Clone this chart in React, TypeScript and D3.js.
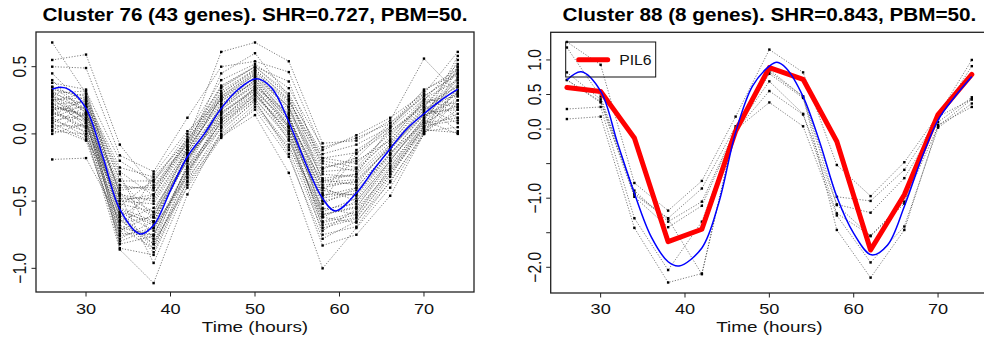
import * as d3 from "d3";
import React from "react";

// sampling times (hours) shared by both clusters
const times = [26, 30, 34, 38, 42, 46, 50, 54, 58, 62, 66, 70, 74];
const xTicks = [30, 40, 50, 60, 70];

// cluster 76: 43 gene profiles
const cluster76: number[][] = [
  [0.68, 0.30, -0.45, -0.62, -0.10, 0.45, 0.60, 0.28, -0.35, -0.30, 0.05, 0.33, 0.45],
  [0.55, 0.59, -0.08, -0.40, -0.05, 0.61, 0.68, 0.54, -0.07, -0.05, 0.10, 0.56, 0.30],
  [0.50, 0.49, -0.16, -0.28, 0.12, 0.50, 0.54, 0.46, -0.12, -0.01, 0.12, 0.30, 0.61],
  [0.45, 0.20, -0.60, -0.85, -0.30, 0.10, 0.35, 0.15, -0.60, -0.55, -0.20, 0.10, 0.58],
  [0.40, 0.15, -0.70, -0.75, -0.25, 0.20, 0.40, 0.05, -0.70, -0.63, -0.30, 0.05, 0.55],
  [0.38, 0.33, -0.50, -0.45, -0.02, 0.35, 0.50, 0.39, -0.25, -0.20, -0.05, 0.25, 0.52],
  [0.35, 0.25, -0.85, -0.90, -0.35, 0.05, 0.30, 0.00, -0.75, -0.69, -0.35, 0.00, 0.50],
  [0.33, 0.28, -0.55, -0.65, -0.15, 0.28, 0.45, 0.20, -0.40, -0.35, -0.10, 0.20, 0.47],
  [0.30, 0.10, -0.75, -0.30, 0.02, 0.25, 0.38, 0.10, -0.50, -0.15, 0.08, 0.28, 0.44],
  [0.30, 0.22, -0.30, -0.80, -0.40, -0.03, 0.20, -0.10, -0.55, -0.60, -0.25, 0.10, 0.42],
  [0.28, 0.18, -0.65, -0.55, -0.20, 0.22, 0.42, 0.12, -0.45, -0.45, -0.15, 0.15, 0.40],
  [0.27, 0.05, -0.80, -0.70, -0.30, 0.15, 0.33, -0.05, -0.62, -0.50, -0.20, 0.12, 0.38],
  [0.25, 0.30, -0.35, -0.35, -0.08, 0.32, 0.48, 0.25, -0.20, -0.25, 0.02, 0.22, 0.35],
  [0.25, 0.12, -0.60, -0.82, -0.22, 0.18, 0.36, 0.08, -0.58, -0.48, -0.18, 0.08, 0.33],
  [0.23, 0.08, -0.72, -0.60, -0.18, 0.12, 0.30, 0.02, -0.52, -0.40, -0.12, 0.18, 0.30],
  [0.22, 0.24, -0.45, -0.50, -0.12, 0.27, 0.44, 0.18, -0.30, -0.32, -0.08, 0.24, 0.28],
  [0.20, 0.00, -0.86, -1.11, -0.45, 0.02, 0.25, -0.15, -0.83, -0.75, -0.46, 0.00, 0.25],
  [0.20, 0.15, -0.40, -0.40, -0.10, 0.30, 0.47, 0.22, -0.22, -0.28, -0.02, 0.26, 0.22],
  [0.18, 0.20, -0.58, -0.72, -0.25, 0.08, 0.28, 0.05, -0.48, -0.42, -0.15, 0.14, 0.20],
  [0.17, 0.05, -0.52, -0.58, -0.14, 0.20, 0.40, 0.12, -0.38, -0.36, -0.10, 0.16, 0.18],
  [0.15, 0.10, -0.68, -0.78, -0.28, 0.06, 0.26, -0.02, -0.65, -0.58, -0.26, 0.04, 0.15],
  [0.14, 0.26, -0.25, -0.32, -0.05, 0.34, 0.50, 0.28, -0.15, -0.08, 0.05, 0.30, 0.12],
  [0.12, -0.02, -0.78, -0.65, -0.20, 0.16, 0.32, 0.06, -0.56, -0.52, -0.22, 0.06, 0.10],
  [0.10, 0.14, -0.48, -0.48, -0.12, 0.24, 0.42, 0.16, -0.33, -0.30, -0.06, 0.20, 0.08],
  [0.10, 0.02, -0.62, -0.88, -0.33, 0.00, 0.22, -0.08, -0.68, -0.62, -0.30, 0.02, 0.05],
  [0.08, 0.20, -0.38, -0.42, -0.06, 0.28, 0.46, 0.24, -0.18, -0.22, 0.00, 0.22, 0.02],
  [0.06, 0.06, -0.56, -0.68, -0.18, 0.14, 0.34, 0.04, -0.42, -0.46, -0.16, 0.10, 0.00],
  [0.05, -0.05, -0.74, -0.75, -0.26, 0.04, 0.24, -0.12, -0.72, -0.56, -0.28, 0.03, 0.01],
  [0.03, 0.16, -0.42, -0.38, -0.08, 0.26, 0.44, 0.20, -0.28, -0.26, -0.04, 0.24, 0.20],
  [0.02, 0.00, -0.66, -0.62, -0.16, 0.10, 0.30, 0.00, -0.50, -0.44, -0.14, 0.08, 0.12],
  [0.00, 0.08, -0.50, -0.52, -0.14, 0.18, 0.38, 0.10, -0.36, -0.34, -0.10, 0.14, 0.25],
  [-0.19, -0.18, -0.64, -0.82, -0.36, -0.02, 0.14, -0.29, -1.00, -0.70, -0.40, 0.00, 0.35],
  [0.30, 0.32, -0.20, -0.36, 0.00, 0.40, 0.52, 0.34, -0.10, -0.03, 0.08, 0.32, 0.48],
  [0.35, 0.18, -0.62, -0.45, -0.10, 0.22, 0.40, 0.14, -0.44, -0.12, 0.04, 0.26, 0.40],
  [0.22, 0.12, -0.70, -0.85, -0.28, 0.12, 0.32, 0.08, -0.62, -0.66, -0.32, 0.06, 0.32],
  [0.25, 0.27, -0.44, -0.58, -0.12, 0.26, 0.42, 0.20, -0.34, -0.38, -0.08, 0.18, 0.36],
  [0.16, 0.04, -0.82, -0.76, -0.24, 0.08, 0.26, -0.04, -0.60, -0.54, -0.24, 0.05, 0.28],
  [0.12, 0.22, -0.34, -0.62, -0.20, 0.20, 0.36, 0.12, -0.40, -0.50, -0.20, 0.12, 0.30],
  [0.20, 0.14, -0.54, -0.34, -0.04, 0.30, 0.48, 0.26, -0.26, -0.18, 0.06, 0.28, 0.45],
  [0.28, 0.10, -0.76, -0.70, -0.32, 0.10, 0.28, 0.02, -0.66, -0.60, -0.28, 0.08, 0.22],
  [0.18, 0.24, -0.28, -0.46, -0.06, 0.36, 0.50, 0.30, -0.18, -0.14, 0.02, 0.20, 0.50],
  [0.32, 0.16, -0.58, -0.66, -0.16, 0.16, 0.34, 0.06, -0.46, -0.40, -0.12, 0.16, 0.42],
  [0.08, -0.04, -0.46, -0.96, -0.38, -0.01, 0.18, -0.17, -0.78, -0.65, -0.36, 0.01, 0.18],
];

// fitted curve for cluster 76 (blue)
const fit76T = [26, 27, 28, 30, 32, 34, 36.4, 38, 40, 42, 44, 46, 48, 50.2, 52, 54, 56, 58, 59.5, 62, 64, 66, 68, 70, 72, 74];
const fit76V = [0.333, 0.347, 0.33, 0.19, -0.17, -0.56, -0.745, -0.68, -0.42, -0.17, 0.0, 0.19, 0.33, 0.41, 0.34, 0.09, -0.22, -0.48, -0.573, -0.44, -0.27, -0.11, 0.04, 0.15, 0.25, 0.333];

// cluster 88: 8 gene profiles (last one is PIL6)
const pil6 = [0.60, 0.545, -0.13, -1.63, -1.45, -0.03, 0.89, 0.72, -0.18, -1.75, -0.95, 0.21, 0.79];
const cluster88: number[][] = [
  [1.26, 0.93, -0.78, -1.18, -0.75, 0.18, 1.15, 0.82, -0.52, -0.97, -0.48, 0.20, 1.00],
  [1.18, 0.47, -0.93, -1.29, -0.86, 0.04, 0.83, 0.47, -0.98, -1.04, -0.59, 0.15, 0.91],
  [0.82, 0.43, -0.89, -1.34, -1.05, 0.00, 0.69, 0.22, -1.09, -1.21, -0.71, 0.10, 0.46],
  [0.71, 0.385, -0.98, -1.42, -1.11, -0.02, 0.55, 0.21, -1.22, -1.54, -1.05, 0.04, 0.43],
  [0.29, 0.32, -1.29, -2.04, -1.34, -0.01, 0.385, 0.04, -1.25, -1.93, -1.41, 0.02, 0.37],
  [0.145, 0.18, -1.43, -2.22, -2.09, 0.01, 0.86, 0.47, -1.46, -2.15, -1.46, 0.06, 0.32],
  [0.71, 0.40, -0.95, -1.30, -2.10, 0.00, 0.80, 0.45, -1.10, -1.55, -1.08, 0.18, 0.43],
  pil6,
];

// fitted curve for cluster 88 (blue)
const fit88T = [26, 27.7, 30, 32, 34, 36, 38, 39.3, 42, 44, 46, 48, 50, 50.9, 52, 54, 56, 58, 60, 62.1, 64, 66, 68, 70, 72, 74];
const fit88V = [0.71, 0.83, 0.55, -0.20, -0.93, -1.56, -1.92, -1.98, -1.72, -1.07, -0.05, 0.62, 0.91, 0.965, 0.88, 0.47, -0.20, -0.98, -1.51, -1.82, -1.68, -1.12, -0.44, 0.13, 0.47, 0.76];

const yTicks76 = [-1.0, -0.5, 0.0, 0.5];
const yTicks88 = [-2.0, -1.5, -1.0, -0.5, 0.0, 0.5, 1.0];
const yLabeled88 = [-2.0, -1.0, 0.0, 0.5, 1.0];

const FONT = "'Liberation Sans', Arial, Helvetica, sans-serif";
const SX = 1.18; // the picture is stretched sideways a bit
const fmt = d3.format(".1f");

type PanelProps = {
  left: number; right: number; top: number; bottom: number;
  yDomain: [number, number];
  genes: number[][];
  fitT: number[]; fitV: number[];
  yTicks: number[]; yLabeled: number[];
  title: string;
  highlight?: { label: string; values: number[] };
};

const Panel: React.FC<PanelProps> = ({ left, right, top, bottom, yDomain, genes, fitT, fitV, yTicks, yLabeled, title, highlight }) => {
  const x = d3.scaleLinear().domain([24.08, 75.92]).range([left, right]);
  const y = d3.scaleLinear().domain(yDomain).range([bottom, top]);
  const line = d3.line<number>().x((_, i) => x(times[i])).y(d => y(d));
  const fit = d3.line<number>().x((_, i) => x(fitT[i])).y(d => y(d)).curve(d3.curveCatmullRom.alpha(0.5));
  const cx = (left + right) / 2;
  const clipId = `clip${Math.round(left)}`;
  return (
    <g>
      <defs>
        <clipPath id={clipId}><rect x={left} y={top} width={right - left} height={bottom - top} /></clipPath>
      </defs>
      <g clipPath={`url(#${clipId})`}>
        {genes.map((g, i) => (
          <path key={i} d={line(g)!} fill="none" stroke="#333" strokeWidth={0.8} strokeDasharray="1.2,1.6" opacity={0.8} />
        ))}
        {genes.map((g, i) => g.map((v, j) => (
          <rect key={`${i}-${j}`} x={x(times[j]) - 1.2} y={y(v) - 1.2} width={2.4} height={2.4} fill="#000" />
        )))}
        {highlight && (
          <path d={line(highlight.values)!} fill="none" stroke="#ff0000" strokeWidth={5} strokeLinejoin="round" strokeLinecap="round" />
        )}
        <path d={fit(fitV)!} fill="none" stroke="#0000ff" strokeWidth={1.5} />
      </g>
      <rect x={left} y={top} width={right - left} height={bottom - top} fill="none" stroke="#222" strokeWidth={1.3} />
      {xTicks.map(t => (
        <g key={t}>
          <line x1={x(t)} x2={x(t)} y1={bottom} y2={bottom + 4.5} stroke="#222" strokeWidth={1} />
          <g transform={`translate(${x(t)},${314}) scale(${SX},1)`}>
            <text textAnchor="middle" fontSize={15.4} fontFamily={FONT} fill="#111">{t}</text>
          </g>
        </g>
      ))}
      {yTicks.map(t => (
        <g key={t}>
          <line x1={left - 4.5} x2={left} y1={y(t)} y2={y(t)} stroke="#222" strokeWidth={1} />
          {yLabeled.includes(t) && (
            <g transform={`translate(${left - 10},${y(t)}) scale(${SX * 0.97},1) rotate(-90)`}>
              <text textAnchor="middle" fontSize={15.6} fontFamily={FONT} fill="#111">{fmt(t)}</text>
            </g>
          )}
        </g>
      ))}
      <g transform={`translate(${cx},331.5) scale(${SX * 1.04},1)`}>
        <text textAnchor="middle" fontSize={15.4} fontFamily={FONT} fill="#111">Time (hours)</text>
      </g>
      <g transform={`translate(${cx},21) scale(1.15,1)`}>
        <text textAnchor="middle" fontSize={18} fontWeight="bold" fontFamily={FONT} fill="#000">{title}</text>
      </g>
      {highlight && (
        <g>
          <rect x={left + 15} y={42} width={90} height={35} fill="none" stroke="#111" strokeWidth={1} />
          <line x1={left + 28} x2={left + 57} y1={59.7} y2={59.7} stroke="#ff0000" strokeWidth={5} strokeLinecap="round" />
          <g transform={`translate(${left + 68.5},64.8) scale(1.05,1)`}>
            <text fontSize={15} fontFamily={FONT} fill="#111">{highlight.label}</text>
          </g>
        </g>
      )}
    </g>
  );
};

export default function App() {
  return (
    <svg width={984} height={339} viewBox="0 0 984 339" style={{ position: "absolute", left: 0, top: 0, background: "#fff" }}>
      <rect width={984} height={339} fill="#fff" />
      <Panel left={36} right={474} top={32} bottom={292} yDomain={[-1.176, 0.758]}
        genes={cluster76} fitT={fit76T} fitV={fit76V} yTicks={yTicks76} yLabeled={yTicks76}
        title="Cluster 76 (43 genes). SHR=0.727, PBM=50." />
      <Panel left={550.7} right={988} top={32.3} bottom={293} yDomain={[-2.372, 1.40]}
        genes={cluster88} fitT={fit88T} fitV={fit88V} yTicks={yTicks88} yLabeled={yLabeled88}
        title="Cluster 88 (8 genes). SHR=0.843, PBM=50."
        highlight={{ label: "PIL6", values: pil6 }} />
    </svg>
  );
}
